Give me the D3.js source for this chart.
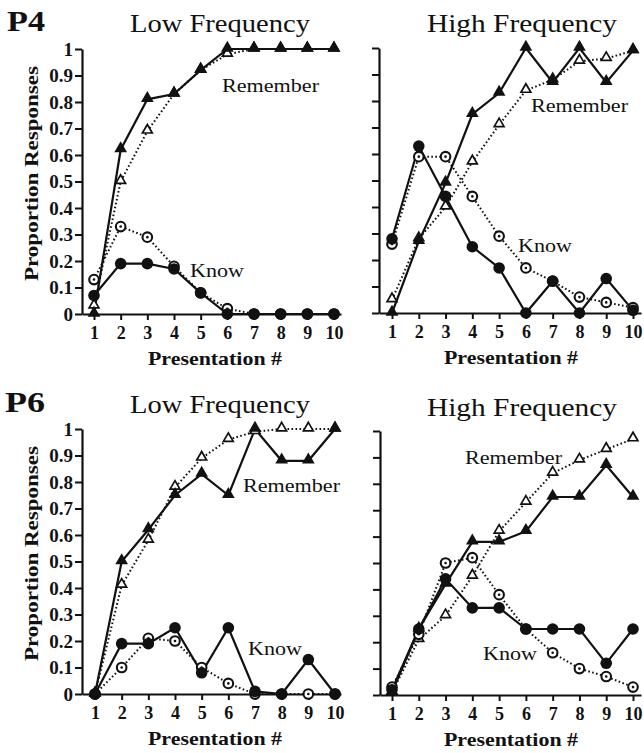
<!DOCTYPE html>
<html><head><meta charset="utf-8">
<script src="https://cdn.jsdelivr.net/npm/d3@7"></script>
<style>
html,body{margin:0;padding:0;background:#fff;}
svg{display:block;}
text{font-family:"Liberation Serif","DejaVu Serif",serif;fill:#111;}
</style></head><body>
<svg id="chart" width="644" height="753"></svg>
<script>
const presentations = [1,2,3,4,5,6,7,8,9,10];
const yTicks = [0,0.1,0.2,0.3,0.4,0.5,0.6,0.7,0.8,0.9,1];
const yTickLabels = ["0","0.1","0.2","0.3","0.4","0.5","0.6","0.7","0.8","0.9","1"];
const participants = ["P4","P6"];
const frequencyTitles = ["Low Frequency","High Frequency"];
const seriesLabels = ["Remember","Know"];
const yAxisTitle = "Proportion Responses";
const xAxisTitle = "Presentation #";

const p4LowRememberSolid  = [0, 0.62, 0.81, 0.83, 0.92, 1, 1, 1, 1, 1];
const p4LowRememberDotted = [0.03, 0.50, 0.69, 0.83, 0.92, 0.98, 1, 1, 1, 1];
const p4LowKnowSolid      = [0.07, 0.19, 0.19, 0.17, 0.08, 0, 0, 0, 0, 0];
const p4LowKnowDotted     = [0.13, 0.33, 0.29, 0.18, 0.08, 0.02, 0, 0, 0, 0];

const p4HighRememberSolid  = [0, 0.27, 0.49, 0.75, 0.83, 1, 0.87, 1, 0.87, 0.99];
const p4HighRememberDotted = [0.05, 0.28, 0.40, 0.57, 0.71, 0.84, 0.88, 0.95, 0.96, 0.99];
const p4HighKnowSolid      = [0.28, 0.63, 0.44, 0.25, 0.17, 0, 0.12, 0, 0.13, 0.01];
const p4HighKnowDotted     = [0.26, 0.59, 0.59, 0.44, 0.29, 0.17, 0.12, 0.06, 0.04, 0.02];

const p6LowRememberSolid  = [0, 0.50, 0.62, 0.75, 0.83, 0.75, 1.0, 0.88, 0.88, 1.0];
const p6LowRememberDotted = [0, 0.41, 0.58, 0.78, 0.89, 0.96, 0.99, 1, 1, 1];
const p6LowKnowSolid      = [0, 0.19, 0.19, 0.25, 0.08, 0.25, 0.01, 0, 0.13, 0];
const p6LowKnowDotted     = [0, 0.10, 0.21, 0.20, 0.10, 0.04, 0, 0, 0, 0];

const p6HighRememberSolid  = [0.01, 0.25, 0.42, 0.58, 0.58, 0.62, 0.75, 0.75, 0.87, 0.75];
const p6HighRememberDotted = [0.01, 0.21, 0.30, 0.45, 0.62, 0.73, 0.84, 0.89, 0.93, 0.97];
const p6HighKnowSolid      = [0.02, 0.25, 0.44, 0.33, 0.33, 0.25, 0.25, 0.25, 0.12, 0.25];
const p6HighKnowDotted     = [0.03, 0.23, 0.50, 0.52, 0.38, 0.25, 0.16, 0.10, 0.07, 0.03];

const svg = d3.select("#chart");

// layout (pixel geometry)
const panels = [
  {row:0, col:0, x0:94, x1:334, axisX:82, axisEnd:341, y0:314, y1:49, title:frequencyTitles[0], titleX:220, titleY:32, labels:true,
   rs:p4LowRememberSolid, rd:p4LowRememberDotted, ks:p4LowKnowSolid, kd:p4LowKnowDotted,
   remPos:[222,92], knowPos:[190,277], xTitleX:215},
  {row:0, col:1, x0:392, x1:633, axisX:379, axisEnd:641, y0:313, y1:48, title:frequencyTitles[1], titleX:522, titleY:32, labels:false,
   rs:p4HighRememberSolid, rd:p4HighRememberDotted, ks:p4HighKnowSolid, kd:p4HighKnowDotted,
   remPos:[531,112], knowPos:[518,252], xTitleX:511},
  {row:1, col:0, x0:95, x1:335, axisX:82, axisEnd:341, y0:694, y1:429, title:frequencyTitles[0], titleX:220, titleY:413, labels:true,
   rs:p6LowRememberSolid, rd:p6LowRememberDotted, ks:p6LowKnowSolid, kd:p6LowKnowDotted,
   remPos:[243,492], knowPos:[248,655], xTitleX:215},
  {row:1, col:1, x0:392, x1:633, axisX:380, axisEnd:641, y0:695, y1:431, title:frequencyTitles[1], titleX:522, titleY:416, labels:false,
   rs:p6HighRememberSolid, rd:p6HighRememberDotted, ks:p6HighKnowSolid, kd:p6HighKnowDotted,
   remPos:[465,464], knowPos:[483,660], xTitleX:511}
];

// participant labels
svg.append("text").attr("x",7).attr("y",31).attr("font-size",30).attr("font-weight","bold")
  .attr("textLength",38).attr("lengthAdjust","spacingAndGlyphs").text(participants[0]);
svg.append("text").attr("x",5).attr("y",412).attr("font-size",30).attr("font-weight","bold")
  .attr("textLength",40).attr("lengthAdjust","spacingAndGlyphs").text(participants[1]);

const triFilled = d3.symbol().type(d3.symbolTriangle).size(70);
const triOpen = d3.symbol().type(d3.symbolTriangle).size(42);

panels.forEach(p => {
  const g = svg.append("g");
  const x = d3.scaleLinear().domain([1,10]).range([p.x0,p.x1]);
  const y = d3.scaleLinear().domain([0,1]).range([p.y0,p.y1]);

  // title
  g.append("text").attr("x",p.titleX).attr("y",p.titleY).attr("text-anchor","middle")
    .attr("font-size",25).attr("textLength", p.col===0?180:190).attr("lengthAdjust","spacingAndGlyphs")
    .text(p.title);

  // y axis
  const yAxis = d3.axisLeft(y).tickValues(yTicks).tickSize(7).tickSizeOuter(0).tickPadding(2)
    .tickFormat((d,i) => p.labels ? yTickLabels[i] : "");
  const ya = g.append("g").attr("transform",`translate(${p.axisX},0)`).call(yAxis);
  ya.select(".domain").attr("stroke","#111").attr("stroke-width",2.2);
  ya.selectAll(".tick line").attr("stroke","#111").attr("stroke-width",2);
  ya.selectAll(".tick text").attr("font-family","Liberation Serif").attr("font-weight","bold")
    .attr("font-size",19).attr("fill","#111");

  // x axis (extended baseline)
  const xExt = x.copy().domain([x.invert(p.axisX), x.invert(p.axisEnd)]).range([p.axisX,p.axisEnd]);
  const xAxis = d3.axisBottom(xExt).tickValues(presentations).tickSize(6).tickSizeOuter(0).tickPadding(6)
    .tickFormat(d3.format("d"));
  const xa = g.append("g").attr("transform",`translate(0,${p.y0})`).call(xAxis);
  xa.select(".domain").attr("stroke","#111").attr("stroke-width",2.2);
  xa.selectAll(".tick line").attr("stroke","#111").attr("stroke-width",2);
  xa.selectAll(".tick text").attr("font-family","Liberation Serif").attr("font-weight","bold")
    .attr("font-size",18).attr("fill","#111");

  // axis titles
  g.append("text").attr("x",p.xTitleX).attr("y",p.y0 + 51).attr("text-anchor","middle")
    .attr("font-size",19).attr("font-weight","bold")
    .attr("textLength",134).attr("lengthAdjust","spacingAndGlyphs").text(xAxisTitle);
  if (p.labels) {
    const cy = (p.y0 + p.y1)/2 - 8;
    g.append("text").attr("transform",`translate(38,${cy}) rotate(-90)`).attr("text-anchor","middle")
      .attr("font-size",19).attr("font-weight","bold")
      .attr("textLength",215).attr("lengthAdjust","spacingAndGlyphs").text(yAxisTitle);
  }

  const line = d3.line().x((d,i)=>x(presentations[i])).y(d=>y(d));

  // dotted lines
  [p.rd, p.kd].forEach(arr => {
    g.append("path").attr("d", line(arr)).attr("fill","none").attr("stroke","#111")
      .attr("stroke-width",2).attr("stroke-dasharray","1.6,2.4");
  });
  // solid lines
  [p.rs, p.ks].forEach(arr => {
    g.append("path").attr("d", line(arr)).attr("fill","none").attr("stroke","#111")
      .attr("stroke-width",2.2);
  });

  // open triangles
  g.selectAll(null).data(p.rd).enter().append("path")
    .attr("d", triOpen).attr("transform",(d,i)=>`translate(${x(presentations[i])},${y(d)-1})`)
    .attr("fill","#fff").attr("stroke","#111").attr("stroke-width",1.7);
  // open circles
  const oc = g.selectAll(null).data(p.kd).enter().append("g")
    .attr("transform",(d,i)=>`translate(${x(presentations[i])},${y(d)})`);
  oc.append("circle").attr("r",4.8).attr("fill","#fff").attr("stroke","#111").attr("stroke-width",2.1);
  oc.append("circle").attr("r",1.3).attr("fill","#111");
  // filled circles
  g.selectAll(null).data(p.ks).enter().append("circle")
    .attr("cx",(d,i)=>x(presentations[i])).attr("cy",d=>y(d)).attr("r",5.8).attr("fill","#111");
  // filled triangles
  g.selectAll(null).data(p.rs).enter().append("path")
    .attr("d", triFilled).attr("transform",(d,i)=>`translate(${x(presentations[i])},${y(d)-1})`)
    .attr("fill","#111");

  // series labels
  g.append("text").attr("x",p.remPos[0]).attr("y",p.remPos[1]).attr("font-size",19)
    .attr("textLength",97).attr("lengthAdjust","spacingAndGlyphs").text(seriesLabels[0]);
  g.append("text").attr("x",p.knowPos[0]).attr("y",p.knowPos[1]).attr("font-size",19)
    .attr("textLength",54).attr("lengthAdjust","spacingAndGlyphs").text(seriesLabels[1]);
});
</script>
</body></html>
